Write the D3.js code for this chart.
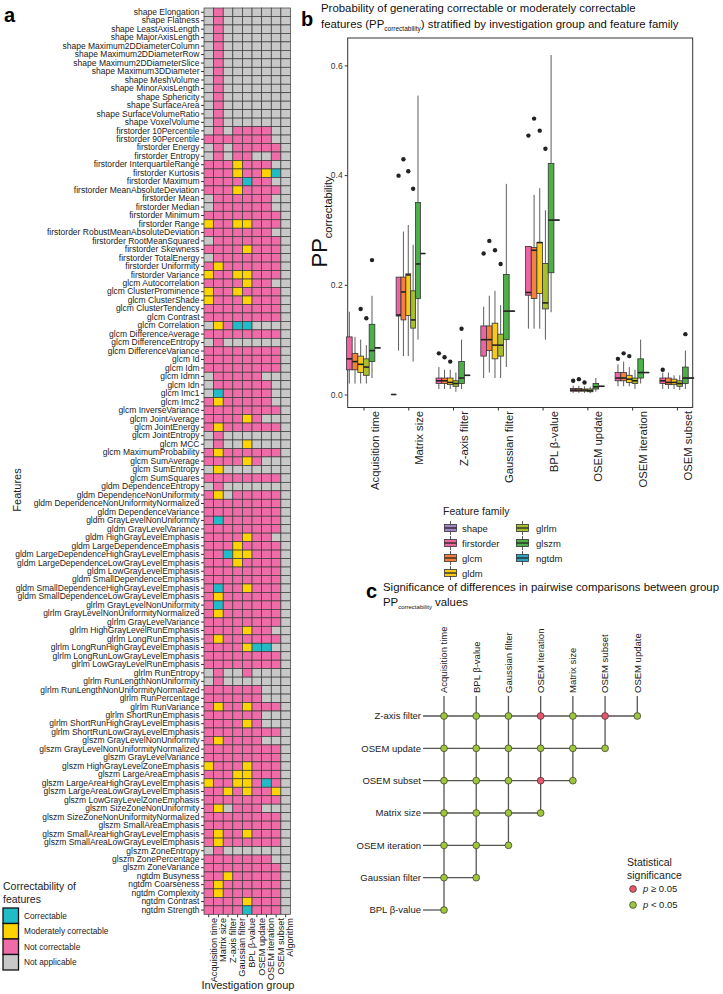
<!DOCTYPE html>
<html><head><meta charset="utf-8">
<script src="https://cdn.jsdelivr.net/npm/d3@7"></script>
<style>body{margin:0;background:#fff}svg{display:block;font-family:"Liberation Sans",Arial,sans-serif}</style>
</head><body>
<script>
// ---------------- Panel a data ----------------
const features = [
"shape Elongation","shape Flatness","shape LeastAxisLength","shape MajorAxisLength","shape Maximum2DDiameterColumn","shape Maximum2DDiameterRow","shape Maximum2DDiameterSlice","shape Maximum3DDiameter","shape MeshVolume","shape MinorAxisLength","shape Sphericity","shape SurfaceArea","shape SurfaceVolumeRatio","shape VoxelVolume",
"firstorder 10Percentile","firstorder 90Percentile","firstorder Energy","firstorder Entropy","firstorder InterquartileRange","firstorder Kurtosis","firstorder Maximum","firstorder MeanAbsoluteDeviation","firstorder Mean","firstorder Median","firstorder Minimum","firstorder Range","firstorder RobustMeanAbsoluteDeviation","firstorder RootMeanSquared","firstorder Skewness","firstorder TotalEnergy","firstorder Uniformity","firstorder Variance",
"glcm Autocorrelation","glcm ClusterProminence","glcm ClusterShade","glcm ClusterTendency","glcm Contrast","glcm Correlation","glcm DifferenceAverage","glcm DifferenceEntropy","glcm DifferenceVariance","glcm Id","glcm Idm","glcm Idmn","glcm Idn","glcm Imc1","glcm Imc2","glcm InverseVariance","glcm JointAverage","glcm JointEnergy","glcm JointEntropy","glcm MCC","glcm MaximumProbability","glcm SumAverage","glcm SumEntropy","glcm SumSquares",
"gldm DependenceEntropy","gldm DependenceNonUniformity","gldm DependenceNonUniformityNormalized","gldm DependenceVariance","gldm GrayLevelNonUniformity","gldm GrayLevelVariance","gldm HighGrayLevelEmphasis","gldm LargeDependenceEmphasis","gldm LargeDependenceHighGrayLevelEmphasis","gldm LargeDependenceLowGrayLevelEmphasis","gldm LowGrayLevelEmphasis","gldm SmallDependenceEmphasis","gldm SmallDependenceHighGrayLevelEmphasis","gldm SmallDependenceLowGrayLevelEmphasis",
"glrlm GrayLevelNonUniformity","glrlm GrayLevelNonUniformityNormalized","glrlm GrayLevelVariance","glrlm HighGrayLevelRunEmphasis","glrlm LongRunEmphasis","glrlm LongRunHighGrayLevelEmphasis","glrlm LongRunLowGrayLevelEmphasis","glrlm LowGrayLevelRunEmphasis","glrlm RunEntropy","glrlm RunLengthNonUniformity","glrlm RunLengthNonUniformityNormalized","glrlm RunPercentage","glrlm RunVariance","glrlm ShortRunEmphasis","glrlm ShortRunHighGrayLevelEmphasis","glrlm ShortRunLowGrayLevelEmphasis",
"glszm GrayLevelNonUniformity","glszm GrayLevelNonUniformityNormalized","glszm GrayLevelVariance","glszm HighGrayLevelZoneEmphasis","glszm LargeAreaEmphasis","glszm LargeAreaHighGrayLevelEmphasis","glszm LargeAreaLowGrayLevelEmphasis","glszm LowGrayLevelZoneEmphasis","glszm SizeZoneNonUniformity","glszm SizeZoneNonUniformityNormalized","glszm SmallAreaEmphasis","glszm SmallAreaHighGrayLevelEmphasis","glszm SmallAreaLowGrayLevelEmphasis","glszm ZoneEntropy","glszm ZonePercentage","glszm ZoneVariance",
"ngtdm Busyness","ngtdm Coarseness","ngtdm Complexity","ngtdm Contrast","ngtdm Strength"];
const groupsA = ["Acquisition time","Matrix size","Z-axis filter","Gaussian filter","BPL \u03b2-value","OSEM update","OSEM iteration","OSEM subset","Algorithm"];
// C = correctable, M = moderately correctable, N = not correctable, A = not applicable
const status = [
"ANAAAAAAA","ANAAAAAAA","ANAAAAAAA","ANAAAAAAA","ANAAAAAAA","ANAAAAAAA","ANAAAAAAA","ANAAAAAAA","ANAAAAAAA","ANAAAAAAA","ANAAAAAAA","ANAAAAAAA","ANAAAAAAA","ANAAAAAAA",
"ANANNNNAA","NNNNNNNAA","ANANNNNNA","ANANNAANA","NNNMNNNAA","NNNMNNMCA","NNNNCNNAA","NNNMNNNNA","ANNNNNNAA","ANNNNNNAA","NNNNNNNNA","MNNMMNNNA","NNNNNNNAA","ANNNNNNNA","NNNNMNNNA","ANNNNNNNA","NMNNNNNNA","MNNMMNNNA",
"NNNNMNNAA","MNNMNNNNA","MNNNMNNNA","NNNNNNNNA","NNNNNNNNA","AMNCCAAAA","NNNNNNNNA","ANAAAAAAA","NNNNNNNNA","NNNNNNNNA","NNNNNNNNA","ANNNNNAAA","ANNNNNNAA","ACNNNNNAA","NMNNNNNAA","NNNNNNNNA","NNNNMNAAA","NMNNNNNNA","ANAAAAAAA","ANAAMAAAA","NMNNNNNNA","NNNNMNAAA","AMAAAAAAA","NNNNNNNNA",
"ANAAAAAAA","NMANNNNNA","NNNNNNNNA","NNNNNNNNA","NCNNNNNNA","NNNNNNNNA","NNNNMNNAA","NNNMNNNNA","NNCMMNNNA","NNNMNNNNA","NNNNNNNNA","NNNNNNNNA","NCNNMNNNA","NMNNNNNNA",
"NCNNNNNNA","NMNNNNNNA","NNNNNNNNA","NNNNMNNAA","NMNNNNNNA","NNNNMCCAA","NNNNNNNNA","NNNNNNNNA","ANAANAAAA","ANAAAAAAA","NNNNNNAAA","NNNNNNAAA","NMNNMNNNA","NNNNNNAAA","NNNNMNAAA","NNNNNNNNA",
"NMNNNNAAA","NNNNNNNNA","NNNNNNNNA","MNNNMNNNA","NNNMMNNNA","MNNMMNCNA","NNMNMNNMA","NNNNNNNNA","NMANNNAAA","NNNNNNNNA","NNNNNNNNA","NMNNMNNNA","NMNNNNNNA","ANAAAAAAA","NNNNNNNAA","NNNNNNNNA",
"NNMNNNNNA","NMNNNNNNA","NMNNNNNNA","NNNNMNNNA","NNNNCNNNA"];
const statusNames = ["Correctable","Moderately correctable","Not correctable","Not applicable"];
const statusCodes = ["C","M","N","A"];
const statusColors = ["#22BCC8","#FDD400","#F06CA9","#C8C8C8"];

// ---------------- Panel b data ----------------
const groupsB = ["Acquisition time","Matrix size","Z-axis filter","Gaussian filter","BPL \u03b2-value","OSEM update","OSEM iteration","OSEM subset"];
const families = ["shape","firstorder","glcm","gldm","glrlm","glszm","ngtdm"];
const familyColors = ["#A283C6","#EE64A2","#F5803E","#F7C91A","#A9BE2E","#4CAF48","#2FA3BE"];
// [group, family, lower whisker, q1, median, q3, upper whisker]
const boxStats = [
[0,1,0.020,0.045,0.065,0.105,0.151],[0,2,0.020,0.045,0.060,0.075,0.105],[0,3,0.020,0.040,0.055,0.070,0.100],[0,4,0.020,0.035,0.050,0.065,0.090],[0,5,0.030,0.060,0.080,0.128,0.180],[0,6,0.085,0.085,0.085,0.085,0.085],
[1,0,0,0,0,0,0],[1,1,0.080,0.143,0.145,0.214,0.214],[1,2,0.070,0.136,0.187,0.214,0.297],[1,3,0.070,0.144,0.218,0.220,0.309],[1,4,0.060,0.121,0.136,0.189,0.273],[1,5,0.100,0.175,0.238,0.350,0.545],[1,6,0.257,0.257,0.257,0.257,0.257],
[2,1,0.010,0.020,0.025,0.030,0.050],[2,2,0.010,0.020,0.025,0.030,0.045],[2,3,0.010,0.018,0.022,0.030,0.045],[2,4,0.005,0.015,0.020,0.025,0.040],[2,5,0.010,0.020,0.030,0.060,0.100],[2,6,0.035,0.035,0.035,0.035,0.035],
[3,1,0.030,0.070,0.100,0.125,0.160],[3,2,0.040,0.080,0.100,0.125,0.180],[3,3,0.030,0.065,0.090,0.130,0.189],[3,4,0.030,0.070,0.090,0.110,0.163],[3,5,0.050,0.100,0.152,0.219,0.384],[3,6,0.152,0.152,0.152,0.152,0.152],
[4,1,0.120,0.181,0.186,0.270,0.270],[4,2,0.120,0.175,0.263,0.268,0.364],[4,3,0.120,0.184,0.277,0.277,0.376],[4,4,0.100,0.156,0.167,0.239,0.336],[4,5,0.150,0.222,0.318,0.421,0.619],[4,6,0.318,0.318,0.318,0.318,0.318],
[5,1,0.003,0.006,0.008,0.011,0.016],[5,2,0.003,0.006,0.008,0.011,0.016],[5,3,0.003,0.006,0.008,0.010,0.015],[5,4,0.002,0.005,0.007,0.010,0.014],[5,5,0.005,0.010,0.014,0.020,0.030],[5,6,0.015,0.015,0.015,0.015,0.015],
[6,1,0.015,0.025,0.030,0.040,0.055],[6,2,0.015,0.025,0.030,0.040,0.060],[6,3,0.015,0.022,0.028,0.035,0.050],[6,4,0.010,0.020,0.025,0.030,0.045],[6,5,0.020,0.030,0.040,0.065,0.100],[6,6,0.040,0.040,0.040,0.040,0.040],
[7,1,0.010,0.020,0.025,0.030,0.040],[7,2,0.010,0.018,0.022,0.030,0.040],[7,3,0.010,0.018,0.022,0.028,0.035],[7,4,0.008,0.015,0.020,0.025,0.035],[7,5,0.010,0.020,0.030,0.050,0.080],[7,6,0.030,0.030,0.030,0.030,0.030]];
// [group, family, value]
const outliers = [
[0,3,0.156],[0,4,0.139],[0,5,0.245],
[1,1,0.399],[1,2,0.429],[1,3,0.407],[1,4,0.375],
[2,1,0.075],[2,2,0.068],[2,3,0.060],[2,5,0.120],
[3,1,0.257],[3,2,0.280],[3,3,0.263],[3,4,0.238],
[4,1,0.472],[4,2,0.503],[4,3,0.481],[4,4,0.448],
[5,1,0.025],[5,2,0.028],[5,3,0.022],
[6,1,0.065],[6,2,0.075],[6,3,0.070],
[7,1,0.045],[7,5,0.110]];
const yTicksB = [0.0,0.2,0.4,0.6];

// ---------------- Panel c data ----------------
const cCols = ["Acquisition time","BPL \u03b2-value","Gaussian filter","OSEM iteration","Matrix size","OSEM subset","OSEM update"];
const cRows = ["Z-axis filter","OSEM update","OSEM subset","Matrix size","OSEM iteration","Gaussian filter","BPL \u03b2-value"];
const cRowCounts = [7,6,5,4,3,2,1];
// significance per row: 1 = p >= 0.05, 0 = p < 0.05
const cSig = [
[0,0,0,1,0,1,0],
[0,0,0,0,0,0],
[0,0,0,1,0],
[0,0,0,0],
[0,0,0],
[0,0],
[0]];
const sigLabels = ["p \u2265 0.05","p < 0.05"];
const sigColors = ["#E8566C","#9DC63B"];

const svg = d3.select("body").append("svg").attr("width",723).attr("height",994);
const ff = '"Liberation Sans",Arial,sans-serif';

// ================= Panel a =================
const ax = d3.scaleBand().domain(groupsA).range([204,290.5]);
const ay = d3.scaleBand().domain(features).range([8,914.3]);
const colorA = d3.scaleOrdinal().domain(statusCodes).range(statusColors);
const gA = svg.append("g");
const cells = [];
features.forEach((f,i)=>groupsA.forEach((g,j)=>cells.push({f,g,s:status[i][j]})));
gA.selectAll("rect.cell").data(cells).enter().append("rect")
  .attr("x",d=>ax(d.g)).attr("y",d=>ay(d.f))
  .attr("width",ax.bandwidth()).attr("height",ay.bandwidth())
  .attr("fill",d=>colorA(d.s)).attr("stroke","#3a3a3a").attr("stroke-width",0.7);
const yAxA = gA.append("g").attr("transform","translate(204,0)").call(d3.axisLeft(ay).tickSize(3).tickPadding(1.5));
yAxA.select(".domain").remove();
yAxA.selectAll("text").attr("font-size","8.5px").attr("fill","#222").attr("font-family",ff);
yAxA.selectAll("line").attr("stroke","#333");
const xAxA = gA.append("g").attr("transform","translate(0,914.3)").call(d3.axisBottom(ax).tickSize(3).tickPadding(2));
xAxA.select(".domain").remove();
xAxA.selectAll("line").attr("stroke","#333");
xAxA.selectAll("text").attr("font-size","9.2px").attr("fill","#222").attr("font-family",ff)
  .attr("transform","rotate(-90)").attr("text-anchor","end").attr("dx","-0.4em").attr("dy","0.3em");
gA.append("text").attr("x",248).attr("y",989).attr("text-anchor","middle").attr("font-size","11px").attr("fill","#222").text("Investigation group");
gA.append("text").attr("transform","translate(21,490) rotate(-90)").attr("text-anchor","middle").attr("font-size","11px").attr("fill","#222").text("Features");
svg.append("text").attr("x",4).attr("y",22).attr("font-size","20px").attr("font-weight","bold").text("a");
// legend a
const lgA = svg.append("g");
lgA.append("text").attr("x",3).attr("y",890).attr("font-size","10.5px").attr("fill","#222").text("Correctability of");
lgA.append("text").attr("x",3).attr("y",902.5).attr("font-size","10.5px").attr("fill","#222").text("features");
const lgy = d3.scaleBand().domain(statusNames).range([908,970]);
lgA.selectAll("rect").data(statusNames).enter().append("rect")
  .attr("x",3).attr("y",d=>lgy(d)).attr("width",15.5).attr("height",lgy.bandwidth())
  .attr("fill",(d,i)=>statusColors[i]).attr("stroke","#111").attr("stroke-width",1.3);
lgA.selectAll("text.l").data(statusNames).enter().append("text").attr("class","l")
  .attr("x",24).attr("y",d=>lgy(d)+lgy.bandwidth()/2+3).attr("font-size","8.3px").attr("fill","#222").text(d=>d);

// ================= Panel b =================
const bx = d3.scalePoint().domain(groupsB).range([347.7,692.7]).padding(0.353);
const by = d3.scaleLinear().domain([0,0.6]).range([394.5,65.4]);
const dodgeW = 34;
// dodge among the families present at each group (like ggplot preserve = "total")
const presentByGroup = groupsB.map((g,gi)=>families.filter((f,fi)=>boxStats.some(d=>d[0]===gi&&d[1]===fi)));
const fxByGroup = presentByGroup.map(p=>d3.scaleBand().domain(p).range([-dodgeW/2,dodgeW/2]));
const gB = svg.append("g");
gB.append("rect").attr("x",347.7).attr("y",38).attr("width",345).attr("height",369.5).attr("fill","none").attr("stroke","#333").attr("stroke-width",1);
const yAxB = gB.append("g").attr("transform","translate(347.7,0)").call(d3.axisLeft(by).tickValues(yTicksB).tickFormat(d3.format(".1f")).tickSize(3).tickPadding(2));
yAxB.select(".domain").remove();
yAxB.selectAll("text").attr("font-size","8.5px").attr("fill","#333").attr("font-family",ff);
yAxB.selectAll("line").attr("stroke","#333");
const xAxB = gB.append("g").attr("transform","translate(0,407.5)").call(d3.axisBottom(bx).tickSize(3).tickPadding(2));
xAxB.select(".domain").remove();
xAxB.selectAll("line").attr("stroke","#333");
xAxB.selectAll("text").attr("font-size","11.3px").attr("fill","#222").attr("font-family",ff)
  .attr("transform","rotate(-90)").attr("text-anchor","end").attr("dx","-0.3em").attr("dy","0.85em");
const boxes = boxStats.map(d=>({gi:d[0],g:groupsB[d[0]],f:families[d[1]],fi:d[1],lo:d[2],q1:d[3],med:d[4],q3:d[5],hi:d[6]}));
const slotX = (gi,f)=>bx(groupsB[gi])+fxByGroup[gi](f)+fxByGroup[gi].bandwidth()/2;
const slotW = gi=>fxByGroup[gi].bandwidth();
gB.selectAll("line.wh").data(boxes).enter().append("line")
  .attr("x1",d=>slotX(d.gi,d.f)).attr("x2",d=>slotX(d.gi,d.f)).attr("y1",d=>by(d.lo)).attr("y2",d=>by(d.hi)).attr("stroke","#333").attr("stroke-width",0.8);
gB.selectAll("rect.box").data(boxes).enter().append("rect")
  .attr("x",d=>slotX(d.gi,d.f)-slotW(d.gi)/2).attr("width",d=>slotW(d.gi)).attr("y",d=>by(d.q3)).attr("height",d=>Math.max(0.01,by(d.q1)-by(d.q3)))
  .attr("fill",d=>familyColors[d.fi]).attr("stroke","#333").attr("stroke-width",0.8);
gB.selectAll("line.med").data(boxes).enter().append("line")
  .attr("x1",d=>slotX(d.gi,d.f)-slotW(d.gi)/2).attr("x2",d=>slotX(d.gi,d.f)+slotW(d.gi)/2).attr("y1",d=>by(d.med)).attr("y2",d=>by(d.med)).attr("stroke","#222").attr("stroke-width",1.6);
gB.selectAll("circle.out").data(outliers).enter().append("circle")
  .attr("cx",d=>slotX(d[0],families[d[1]])).attr("cy",d=>by(d[2])).attr("r",2.2).attr("fill","#222");
svg.append("text").attr("x",301).attr("y",26).attr("font-size","20px").attr("font-weight","bold").text("b");
svg.append("text").attr("font-size","11.4px").attr("fill","#111").attr("x",321).attr("y",12).text("Probability of generating correctable or moderately correctable");
const tB2 = svg.append("text").attr("font-size","11.4px").attr("fill","#111").attr("x",321).attr("y",28);
tB2.append("tspan").text("features (PP");
tB2.append("tspan").attr("font-size","6.5px").attr("dy",3).text("correctability");
tB2.append("tspan").attr("dy",-3).text(") stratified by investigation group and feature family");
const yt = svg.append("text").attr("transform","translate(327,222) rotate(-90)").attr("text-anchor","middle").attr("fill","#111");
yt.append("tspan").attr("font-size","22px").text("PP");
yt.append("tspan").attr("font-size","11px").attr("dy",5).text("correctability");
// legend b
const lgB = svg.append("g");
lgB.append("text").attr("x",443).attr("y",515).attr("font-size","10.5px").attr("fill","#222").text("Feature family");
const famPos = families.map((f,i)=>({f,i,col:i<4?0:1,row:i<4?i:i-4}));
const lkx = d3.scaleOrdinal().domain([0,1]).range([443,515]);
const lky = d3.scaleLinear().domain([0,3]).range([521,566]);
const kg = lgB.selectAll("g.k").data(famPos).enter().append("g").attr("transform",d=>`translate(${lkx(d.col)},${lky(d.row)})`);
kg.append("line").attr("x1",7.5).attr("x2",7.5).attr("y1",0).attr("y2",14).attr("stroke","#333").attr("stroke-width",0.8);
kg.append("rect").attr("x",1.5).attr("y",3.5).attr("width",12).attr("height",7).attr("fill",d=>familyColors[d.i]).attr("stroke","#333").attr("stroke-width",0.8);
kg.append("line").attr("x1",1.5).attr("x2",13.5).attr("y1",7).attr("y2",7).attr("stroke","#222").attr("stroke-width",1.3);
kg.append("text").attr("x",d=>d.col?21:19).attr("y",10.5).attr("font-size","9.5px").attr("fill","#222").text(d=>d.f);

// ================= Panel c =================
const cx = d3.scalePoint().domain(cCols).range([444,637.3]);
const cy = d3.scalePoint().domain(cRows).range([716,910]);
const gC = svg.append("g");
svg.append("text").attr("x",366).attr("y",598).attr("font-size","20px").attr("font-weight","bold").text("c");
gC.append("text").attr("x",383).attr("y",591).attr("font-size","11.4px").attr("fill","#111").text("Significance of differences in pairwise comparisons between group");
const tC2 = gC.append("text").attr("x",383).attr("y",606).attr("font-size","11.4px").attr("fill","#111");
tC2.append("tspan").text("PP");
tC2.append("tspan").attr("font-size","6px").attr("dy",3).text("correctability");
tC2.append("tspan").attr("dy",-3).text(" values");
cCols.forEach((c,j)=>{
  const lastRow = cRows.filter((r,i)=>cRowCounts[i]>j).pop();
  gC.append("line").attr("x1",cx(c)).attr("x2",cx(c)).attr("y1",696).attr("y2",cy(lastRow)).attr("stroke","#555").attr("stroke-width",1.3);
  gC.append("text").attr("transform",`translate(${cx(c)+3.3},693) rotate(-90)`).attr("font-size","9.5px").attr("fill","#222").text(c);
});
cRows.forEach((r,i)=>{
  gC.append("line").attr("x1",423).attr("x2",cx(cCols[cRowCounts[i]-1])).attr("y1",cy(r)).attr("y2",cy(r)).attr("stroke","#555").attr("stroke-width",1.3);
  gC.append("text").attr("x",421).attr("y",cy(r)+3.3).attr("text-anchor","end").attr("font-size","9.5px").attr("fill","#222").text(r);
});
const pts = [];
cRows.forEach((r,i)=>cSig[i].forEach((s,j)=>pts.push({r,c:cCols[j],s})));
gC.selectAll("circle").data(pts).enter().append("circle")
  .attr("cx",d=>cx(d.c)).attr("cy",d=>cy(d.r)).attr("r",3.4)
  .attr("fill",d=>sigColors[d.s?0:1]).attr("stroke","#333").attr("stroke-width",0.7);
// legend c
const lgC = svg.append("g");
lgC.append("text").attr("x",627).attr("y",866).attr("font-size","10.5px").attr("fill","#222").text("Statistical");
lgC.append("text").attr("x",627).attr("y",879).attr("font-size","10.5px").attr("fill","#222").text("significance");
const lcy = d3.scaleLinear().domain([0,1]).range([889,905]);
sigLabels.forEach((l,i)=>{
  lgC.append("circle").attr("cx",633).attr("cy",lcy(i)).attr("r",3.4).attr("fill",sigColors[i]).attr("stroke","#333").attr("stroke-width",0.7);
  const t = lgC.append("text").attr("x",643).attr("y",lcy(i)+3.3).attr("font-size","9.5px").attr("fill","#222");
  t.append("tspan").attr("font-style","italic").text("p");
  t.append("tspan").text(l.slice(1));
});
</script>
</body></html>
